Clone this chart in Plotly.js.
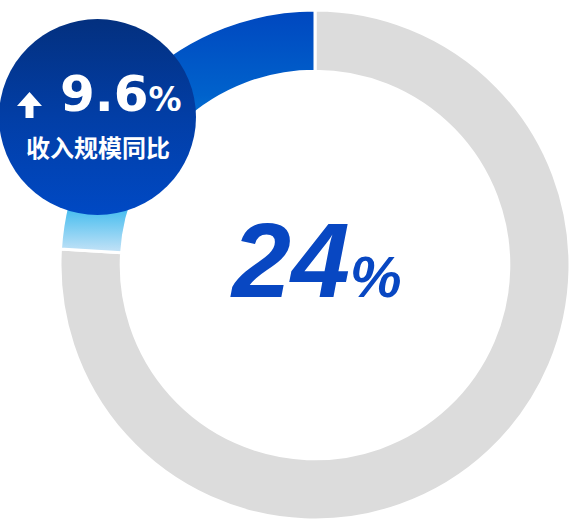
<!DOCTYPE html>
<html>
<head>
<meta charset="utf-8">
<script src="https://cdn.plot.ly/plotly-3.0.1.min.js"></script>
<style>
  html, body { margin: 0; padding: 0; background: #fff; }
  #plot { width: 570px; height: 522px; }
</style>
</head>
<body>
<div id="plot"></div>
<script>
// rest of the ring first, then the share, going round from 12 o'clock
var labels = ['其他', '占比'];
var values = [76, 24];
var growth = '9.6';
var growthLabel = '收入规模同比';
var shareText = '24';

var W = 570, H = 522;
function px(x) { return x / W; }
function py(y) { return 1 - y / H; }
function pt(x, y) { return px(x).toFixed(5) + ',' + py(y).toFixed(5); }

var trace = {
  type: 'pie',
  labels: labels,
  values: values,
  sort: false,
  direction: 'clockwise',
  rotation: 0,
  hole: 0.76,
  textinfo: 'none',
  hoverinfo: 'none',
  marker: {
    colors: ['#dcdcdc', '#0066d0'],
    line: { color: '#ffffff', width: 3 }
  },
  domain: { x: [px(60), px(570)], y: [py(520), py(10)] },
  showlegend: false
};

// up arrow in the badge
var arrowPath = 'M' + pt(29.5, 92) + ' L' + pt(42, 106) + ' L' + pt(33.5, 106) + ' L' + pt(33.5, 118) +
  ' L' + pt(25.5, 118) + ' L' + pt(25.5, 106) + ' L' + pt(17, 106) + ' Z';

var layout = {
  width: W,
  height: H,
  margin: { l: 0, r: 0, t: 0, b: 0 },
  paper_bgcolor: '#ffffff',
  showlegend: false,
  shapes: [
    {
      type: 'circle',
      xref: 'paper', yref: 'paper',
      x0: px(-1), x1: px(196),
      y0: py(215), y1: py(19),
      fillcolor: '#0040a8',
      line: { width: 0 },
      layer: 'above'
    },
    {
      type: 'path',
      xref: 'paper', yref: 'paper',
      path: arrowPath,
      fillcolor: '#ffffff',
      line: { width: 0 },
      layer: 'above'
    }
  ],
  annotations: [
    {
      xref: 'paper', yref: 'paper',
      x: px(316), y: py(260),
      xanchor: 'center', yanchor: 'middle',
      text: shareText + '<span style="font-size:58px">%</span>',
      showarrow: false,
      font: { family: 'Liberation Sans, Arial, sans-serif', size: 106, color: '#0847c2', weight: 'bold', style: 'italic' }
    },
    {
      xref: 'paper', yref: 'paper',
      x: px(121), y: py(94),
      xanchor: 'center', yanchor: 'middle',
      text: growth + '<span style="font-size:33px">%</span>',
      showarrow: false,
      font: { family: 'DejaVu Sans, sans-serif', size: 50, color: '#ffffff', weight: 'bold' }
    },
    {
      xref: 'paper', yref: 'paper',
      x: px(97.5), y: py(147),
      xanchor: 'center', yanchor: 'middle',
      text: growthLabel,
      showarrow: false,
      font: { family: 'Noto Sans CJK SC, sans-serif', size: 24, color: '#ffffff', weight: 'bold' }
    }
  ]
};

Plotly.newPlot('plot', [trace], layout, { displayModeBar: false, staticPlot: true }).then(function (gd) {
  // gradients are not in plotly, so add them to the drawn paths
  var ns = 'http://www.w3.org/2000/svg';
  var svg = gd.querySelector('svg.main-svg');
  var defs = document.createElementNS(ns, 'defs');
  function grad(id, stops) {
    var g = document.createElementNS(ns, 'linearGradient');
    g.setAttribute('id', id);
    g.setAttribute('x1', '0'); g.setAttribute('y1', '0');
    g.setAttribute('x2', '0'); g.setAttribute('y2', '1');
    stops.forEach(function (s) {
      var st = document.createElementNS(ns, 'stop');
      st.setAttribute('offset', s[0]);
      st.setAttribute('stop-color', s[1]);
      g.appendChild(st);
    });
    defs.appendChild(g);
  }
  grad('ringGrad', [[0, '#0047bf'], [0.35, '#0062cc'], [0.6, '#0a86dd'], [0.82, '#46bdef'], [1, '#c6e3f7']]);
  grad('badgeGrad', [[0, '#03307f'], [0.5, '#023ea6'], [1, '#0049c4']]);
  svg.insertBefore(defs, svg.firstChild);

  var shareIdx = labels.indexOf('占比');
  gd.querySelectorAll('.pielayer .slice').forEach(function (s) {
    if (s.__data__ && s.__data__.i === shareIdx) {
      s.querySelector('path.surface').style.fill = 'url(#ringGrad)';
    }
  });
  var badge = gd.querySelector('.layer-above .shapelayer path');
  if (badge) badge.style.fill = 'url(#badgeGrad)';
});
</script>
</body>
</html>
